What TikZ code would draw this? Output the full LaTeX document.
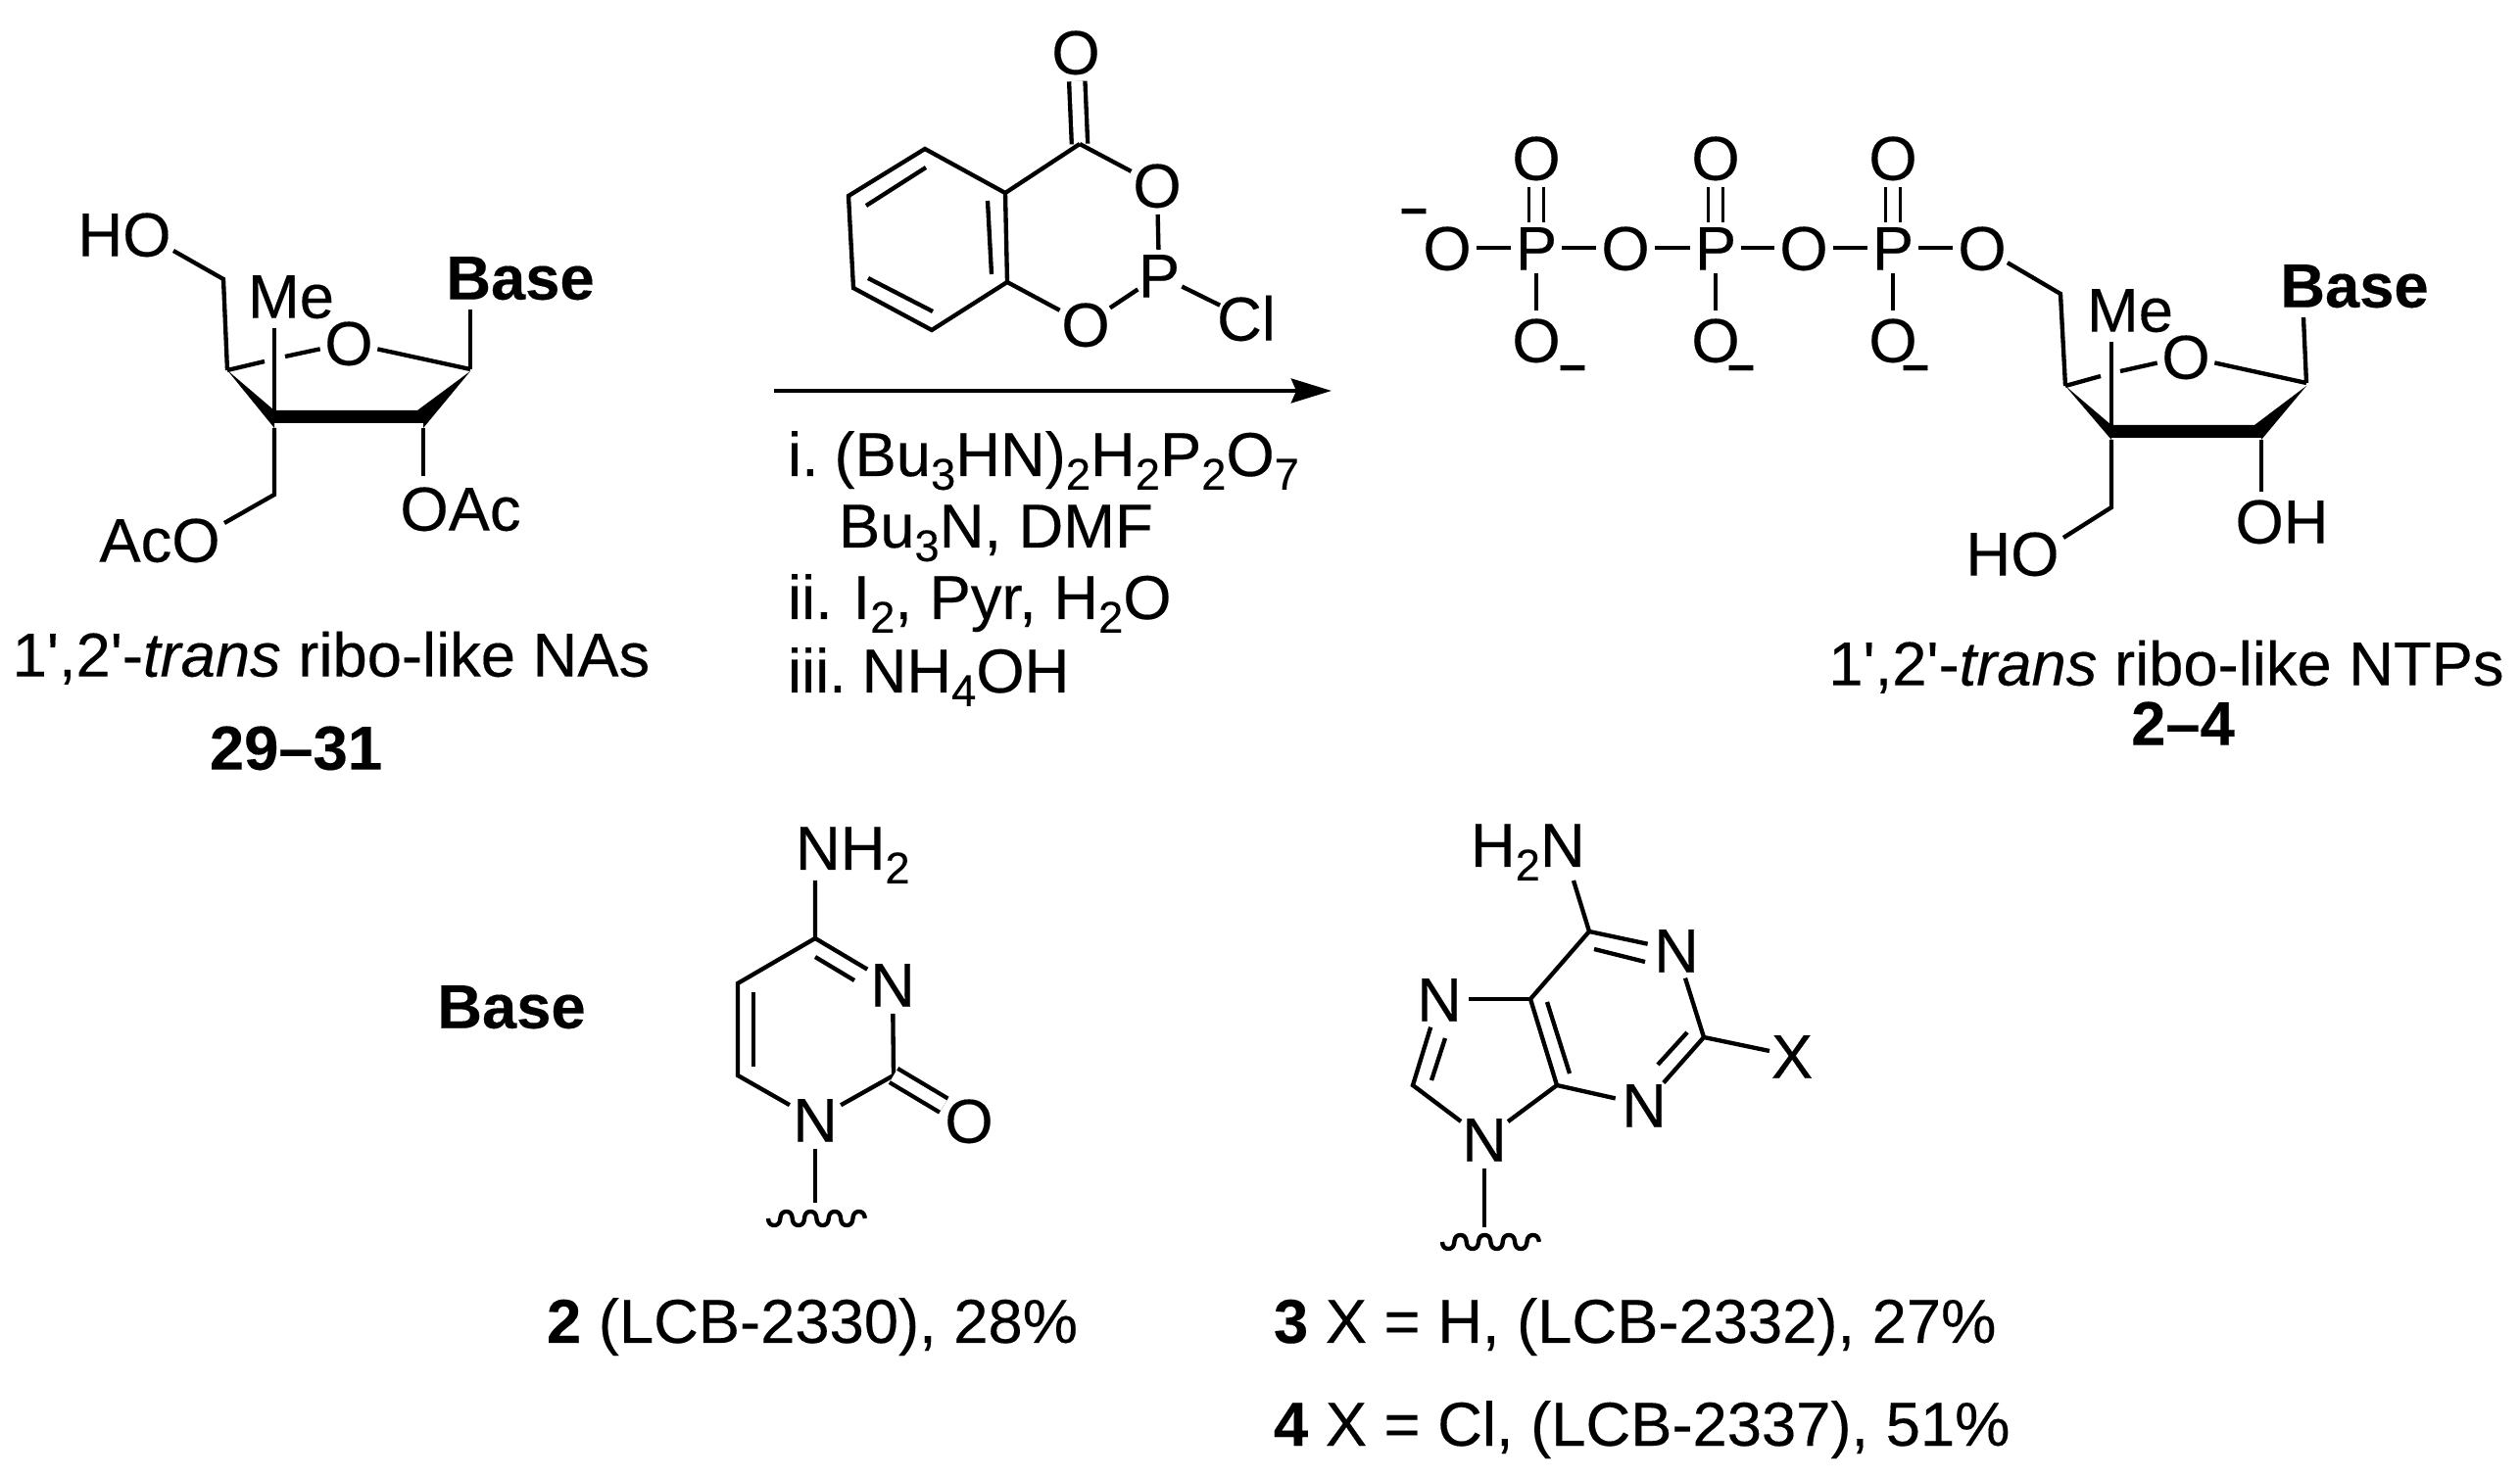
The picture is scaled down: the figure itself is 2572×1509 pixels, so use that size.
\documentclass[tikz,border=0pt]{standalone}
\usepackage{fontspec}
\usetikzlibrary{arrows.meta}
\newfontfamily\arl[FakeBold=0.25,BoldFeatures={FakeBold=0.25},ItalicFeatures={FakeBold=0.25}]{Liberation Sans}
\newcommand{\atomtxt}[1]{\smash{\makebox[0pt]{\raisebox{-0.358em}{#1}}}}
\newcommand{\sbs}[1]{\raisebox{-0.22em}{\fontsize{13.6}{15}\selectfont #1}}
\tikzset{
  every node/.style={font=\arl\fontsize{19}{22}\selectfont, inner sep=0pt, outer sep=0pt},
  atom/.style={circle, minimum size=18pt},
  patom/.style={circle, minimum size=15.6pt},
  lbl/.style={circle, minimum size=0pt},
  txt/.style={anchor=base west},
  chg/.style={font=\arl\bfseries\fontsize{15}{18}\selectfont},
  bond/.style={line width=1.3pt},
  dbl/.style={line width=1.3pt, double, double distance=3.6pt},
  wave/.style={line width=1.3pt, line join=round}
}
\begin{document}
\begin{tikzpicture}[x=0.3pt,y=-0.3pt]
\useasboundingbox (0,0) rectangle (2572,1509);

% ---------- left sugar ----------
\coordinate (lc5) at (228,285);
\coordinate (lc4) at (232,378);
\coordinate (lc1) at (480,377);
\coordinate (lc3t) at (280,419);
\coordinate (lc3b) at (280,437);
\coordinate (lc2t) at (426,419);
\coordinate (lc2b) at (432,437);
\coordinate (lc2m) at (432,432);
\coordinate (lc3m) at (280,432);
\coordinate (lc1w) at (480,379);
\coordinate (lch2) at (280,505);
\coordinate (lhoend) at (177,256);
\coordinate (lacend) at (229,534);
\coordinate (loacend) at (432,486);
\coordinate (lbaseend) at (480,316);
\coordinate (lmeend) at (280,335);
\coordinate (lg1) at (270,369);
\coordinate (lg2) at (291,364);
\node[atom] (lo) at (356,350) {\atomtxt{O}};
\node[lbl] (lho) at (127,239) {\atomtxt{HO}};
\node[lbl] (lme) at (297,302) {\atomtxt{Me}};
\node[lbl] (lbase) at (531,283) {\atomtxt{\textbf{Base}}};
\node[lbl] (laco) at (163,551) {\atomtxt{AcO}};
\node[lbl] (loac) at (470,519) {\atomtxt{OAc}};
\fill (lc4) -- (lc3t) -- (lc2t) -- (lc1w) -- (lc2b) -- (lc2m) -- (lc3m) -- (lc3b) -- cycle;
\draw[bond] (lhoend) -- (lc5) -- (lc4);
\draw[bond] (lc4) -- (lg1);
\draw[bond] (lg2) -- (lo);
\draw[bond] (lo) -- (lc1);
\draw[bond] (lc1) -- (lbaseend);
\draw[bond] (lmeend) -- (lc3t);
\draw[bond] (lc3b) -- (lch2) -- (lacend);
\draw[bond] (lc2b) -- (loacend);
\node[lbl] (lname) at (338,668) {\atomtxt{1',2'-\textit{trans} ribo-like NAs}};
\node[lbl] (lnum) at (302,763) {\atomtxt{\textbf{29–31}}};

% ---------- reagent ----------
\coordinate (rc) at (1102,147);
\coordinate (r4a) at (1026,197);
\coordinate (r5) at (944,152);
\coordinate (r6) at (866,200);
\coordinate (r7) at (871,294);
\coordinate (r8) at (951,337);
\coordinate (r8a) at (1028,288);
\coordinate (ri1a) at (884,210);
\coordinate (ri1b) at (945,171);
\coordinate (ri2a) at (886,284);
\coordinate (ri2b) at (952,318);
\coordinate (ri3a) at (1008,205);
\coordinate (ri3b) at (1012,280);
\node[atom] (rotop) at (1098,53) {\atomtxt{O}};
\node[atom] (ro1) at (1181,189) {\atomtxt{O}};
\node[patom] (rp) at (1183,281) {\atomtxt{P}};
\node[atom] (ro2) at (1108,331) {\atomtxt{O}};
\node[atom] (rcl) at (1272,325) {\atomtxt{Cl}};
\draw[dbl] (rc) -- (rotop);
\draw[bond] (rc) -- (r4a) -- (r5) -- (r6) -- (r7) -- (r8) -- (r8a) -- (r4a);
\draw[bond] (ri1a) -- (ri1b);
\draw[bond] (ri2a) -- (ri2b);
\draw[bond] (ri3a) -- (ri3b);
\draw[bond] (rc) -- (ro1);
\draw[bond] (ro1) -- (rp);
\draw[bond] (r8a) -- (ro2);
\draw[bond] (ro2) -- (rp);
\draw[bond] (rp) -- (rcl);

% ---------- arrow ----------
\coordinate (astart) at (790,399);
\coordinate (aend) at (1359,399);
\draw[line width=1.4pt, -{Stealth[length=12.3pt,width=7.4pt,inset=1.5pt]}] (astart) -- (aend);

\node[txt] (re1) at (804,486) {i.\hspace{.25em}(Bu\sbs{3}HN)\sbs{2}H\sbs{2}P\sbs{2}O\sbs{7}};
\node[txt] (re2) at (856,559) {Bu\sbs{3}N, DMF};
\node[txt] (re3) at (804,632) {ii.\hspace{.33em}I\sbs{2}, Pyr, H\sbs{2}O};
\node[txt] (re4) at (804,707) {iii.\hspace{.25em}NH\sbs{4}OH};

% ---------- triphosphate ----------
\node[atom] (po0) at (1477,253) {\atomtxt{O}};
\node[patom] (pp1) at (1568,253) {\atomtxt{P}};
\node[atom] (po1) at (1659,253) {\atomtxt{O}};
\node[patom] (pp2) at (1751,253) {\atomtxt{P}};
\node[atom] (po2) at (1841,253) {\atomtxt{O}};
\node[patom] (pp3) at (1932,253) {\atomtxt{P}};
\node[atom] (po3) at (2023,253) {\atomtxt{O}};
\node[atom] (pt1) at (1568,161) {\atomtxt{O}};
\node[atom] (pt2) at (1751,161) {\atomtxt{O}};
\node[atom] (pt3) at (1932,161) {\atomtxt{O}};
\node[atom] (pb1) at (1568,347) {\atomtxt{O}};
\node[atom] (pb2) at (1751,347) {\atomtxt{O}};
\node[atom] (pb3) at (1932,347) {\atomtxt{O}};
\node[lbl,chg] (q0) at (1443,221) {\raisebox{-0.25em}{\makebox[0pt]{–}}};
\node[lbl,chg] (q1) at (1605,381) {\raisebox{-0.25em}{\makebox[0pt]{–}}};
\node[lbl,chg] (q2) at (1777,381) {\raisebox{-0.25em}{\makebox[0pt]{–}}};
\node[lbl,chg] (q3) at (1955,381) {\raisebox{-0.25em}{\makebox[0pt]{–}}};
\draw[bond] (po0) -- (pp1);
\draw[bond] (pp1) -- (po1);
\draw[bond] (po1) -- (pp2);
\draw[bond] (pp2) -- (po2);
\draw[bond] (po2) -- (pp3);
\draw[bond] (pp3) -- (po3);
\draw[dbl, line width=1pt] (pp1) -- (pt1);
\draw[dbl, line width=1pt] (pp2) -- (pt2);
\draw[dbl, line width=1pt] (pp3) -- (pt3);
\draw[bond] (pp1) -- (pb1);
\draw[bond] (pp2) -- (pb2);
\draw[bond] (pp3) -- (pb3);

% ---------- right sugar ----------
\coordinate (tc5) at (2103,300);
\coordinate (tc4) at (2108,394);
\coordinate (tc1) at (2354,391);
\coordinate (tc1w) at (2354,394);
\coordinate (tc3t) at (2155,434);
\coordinate (tc3b) at (2155,449);
\coordinate (tc3m) at (2155,447);
\coordinate (tc2t) at (2301,434);
\coordinate (tc2m) at (2308,447);
\coordinate (tc2b) at (2308,449);
\coordinate (tch2) at (2155,518);
\coordinate (thoend) at (2106,549);
\coordinate (tohend) at (2308,502);
\coordinate (tbaseend) at (2351,324);
\coordinate (tmeend) at (2155,349);
\coordinate (tg1) at (2144,384);
\coordinate (tg2) at (2164,379);
\node[atom] (to) at (2231,364) {\atomtxt{O}};
\node[lbl] (tme) at (2174,316) {\atomtxt{Me}};
\node[lbl] (tbase) at (2403,291) {\atomtxt{\textbf{Base}}};
\node[lbl] (tho) at (2054,565) {\atomtxt{HO}};
\node[lbl] (toh) at (2329,532) {\atomtxt{OH}};
\fill (tc4) -- (tc3t) -- (tc2t) -- (tc1w) -- (tc2b) -- (tc2m) -- (tc3m) -- (tc3b) -- cycle;
\draw[bond] (po3) -- (tc5) -- (tc4);
\draw[bond] (tc4) -- (tg1);
\draw[bond] (tg2) -- (to);
\draw[bond] (to) -- (tc1);
\draw[bond] (tc1) -- (tbaseend);
\draw[bond] (tmeend) -- (tc3t);
\draw[bond] (tc3b) -- (tch2) -- (thoend);
\draw[bond] (tc2b) -- (tohend);
\node[lbl] (tname) at (2211,677) {\atomtxt{1',2'-\textit{trans} ribo-like NTPs}};
\node[lbl] (tnum) at (2228,738) {\atomtxt{\textbf{2–4}}};

% ---------- Base label ----------
\node[lbl] (bbase) at (522,1027) {\atomtxt{\textbf{Base}}};

% ---------- cytosine ----------
\coordinate (cc4) at (832,958);
\coordinate (cc5) at (753,1004);
\coordinate (cc6) at (753,1098);
\coordinate (cc2) at (912,1098);
\coordinate (cnh) at (832,899);
\coordinate (ci1a) at (832,977);
\coordinate (ci1b) at (872,1001);
\coordinate (ci2a) at (769,1013);
\coordinate (ci2b) at (769,1089);
\coordinate (cwv) at (832,1228);
\node[txt] (cnh2) at (812,888) {NH\sbs{2}};
\node[atom] (cn3) at (911,1005) {\atomtxt{N}};
\node[atom] (cn1) at (832,1143) {\atomtxt{N}};
\node[atom] (coo) at (989,1144) {\atomtxt{O}};
\draw[bond] (cnh) -- (cc4) -- (cc5) -- (cc6) -- (cn1);
\draw[bond] (cn1) -- (cc2);
\draw[bond] (cc2) -- (cn3);
\draw[bond] (cn3) -- (cc4);
\draw[bond] (ci1a) -- (ci1b);
\draw[bond] (ci2a) -- (ci2b);
\draw[dbl] (cc2) -- (coo);
\draw[bond] (cn1) -- (cwv);
\draw[wave] plot[domain=0:4,samples=120,smooth] ({784+24.7*(\x-0.06*sin(\x*720))},{1244+7*sin(\x*360)});

% ---------- purine ----------
\coordinate (ph) at (1606,899);
\coordinate (pc6) at (1622,951);
\coordinate (pc5) at (1562,1020);
\coordinate (pc4) at (1589,1108);
\coordinate (pc2) at (1739,1059);
\coordinate (pc8) at (1442,1108);
\coordinate (pxend) at (1806,1073);
\coordinate (pi1a) at (1627,969);
\coordinate (pi1b) at (1679,982);
\coordinate (pi2a) at (1722,1054);
\coordinate (pi2b) at (1692,1087);
\coordinate (pi3a) at (1579,1023);
\coordinate (pi3b) at (1602,1096);
\coordinate (pi4a) at (1475,1060);
\coordinate (pi4b) at (1461,1103);
\coordinate (pwv) at (1515,1253);
\node[txt] (ph2n) at (1501,885) {H\sbs{2}N};
\node[atom] (pn1) at (1711,970) {\atomtxt{N}};
\node[atom] (pn3) at (1678,1128) {\atomtxt{N}};
\node[atom] (pn7) at (1469,1020) {\atomtxt{N}};
\node[atom] (pn9) at (1515,1163) {\atomtxt{N}};
\node[lbl] (px) at (1829,1078) {\atomtxt{X}};
\draw[bond] (ph) -- (pc6) -- (pn1);
\draw[bond] (pn1) -- (pc2);
\draw[bond] (pc2) -- (pn3);
\draw[bond] (pn3) -- (pc4);
\draw[bond] (pc2) -- (pxend);
\draw[bond] (pc6) -- (pc5) -- (pc4) -- (pn9);
\draw[bond] (pc5) -- (pn7);
\draw[bond] (pn7) -- (pc8) -- (pn9);
\draw[bond] (pi1a) -- (pi1b);
\draw[bond] (pi2a) -- (pi2b);
\draw[bond] (pi3a) -- (pi3b);
\draw[bond] (pi4a) -- (pi4b);
\draw[bond] (pn9) -- (pwv);
\draw[wave] plot[domain=0:4,samples=120,smooth] ({1472+24.7*(\x-0.06*sin(\x*720))},{1268+7*sin(\x*360)});

% ---------- captions ----------
\node[txt] (cap2) at (558,1371) {\textbf{2} (LCB-2330), 28\%};
\node[txt] (cap3) at (1300,1371) {\textbf{3} X = H, (LCB-2332), 27\%};
\node[txt] (cap4) at (1300,1476) {\textbf{4} X = Cl, (LCB-2337), 51\%};
\end{tikzpicture}
\end{document}
